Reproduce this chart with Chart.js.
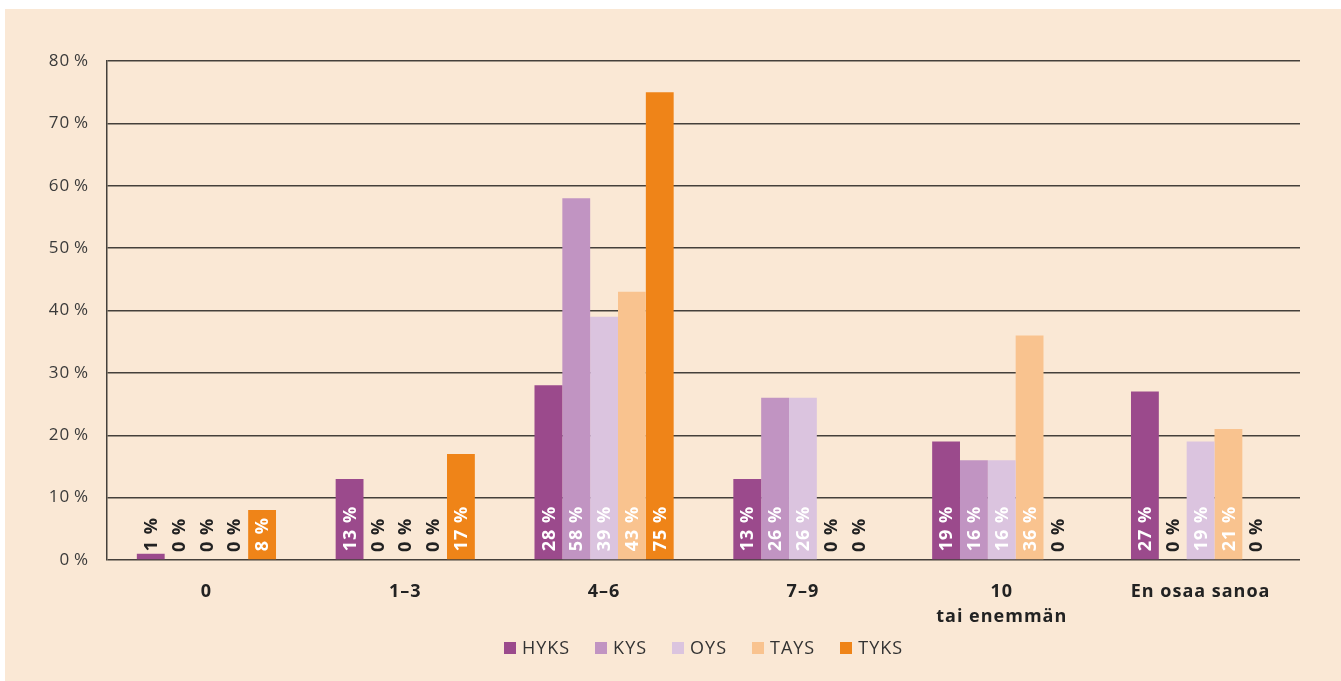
<!DOCTYPE html>
<html>
<head>
<meta charset="utf-8">
<script src="https://cdn.jsdelivr.net/npm/chart.js@4.4.1/dist/chart.umd.min.js"></script>
<style>
  html, body { margin: 0; padding: 0; background: #ffffff; }
  #wrap { position: absolute; left: 5px; top: 9px; width: 1336px; height: 672px; background: #FAE8D5; }
  canvas { display: block; }
</style>
</head>
<body>
<div id="wrap"><canvas id="c" width="1336" height="672"></canvas></div>
<script>
const categories = ["0", "1–3", "4–6", "7–9", ["10", "tai enemmän"], "En osaa sanoa"];
const seriesNames = ["HYKS", "KYS", "OYS", "TAYS", "TYKS"];
const HYKS = [1, 13, 28, 13, 19, 27];
const KYS  = [0, 0, 58, 26, 16, 0];
const OYS  = [0, 0, 39, 26, 16, 19];
const TAYS = [0, 0, 43, 0, 36, 21];
const TYKS = [8, 17, 75, 0, 0, 0];
const seriesColors = ["#9B4A8C", "#C194C2", "#DBC4DF", "#F9C38F", "#EF8418"];
const yTicks = [0, 10, 20, 30, 40, 50, 60, 70, 80];

const FONT = "'Open Sans', 'DejaVu Sans', sans-serif";
const seriesValues = [HYKS, KYS, OYS, TAYS, TYKS];

const spacing = {
  id: 'spacing',
  beforeLayout(chart) { chart.ctx.letterSpacing = '1px'; },
  beforeDraw(chart) { chart.ctx.letterSpacing = '1px'; }
};

const valueLabels = {
  id: 'valueLabels',
  afterDraw(chart) {
    const ctx = chart.ctx;
    ctx.save();
    ctx.letterSpacing = '1px';
    ctx.font = "bold 18px " + FONT;
    ctx.textAlign = 'left';
    ctx.textBaseline = 'middle';
    chart.data.datasets.forEach((ds, i) => {
      const meta = chart.getDatasetMeta(i);
      meta.data.forEach((el, j) => {
        const v = ds.data[j];
        ctx.save();
        ctx.translate(el.x, el.base - 8);
        ctx.rotate(-Math.PI / 2);
        ctx.fillStyle = v >= 5 ? '#ffffff' : '#222222';
        ctx.fillText(v + ' %', 0, 1);
        ctx.restore();
      });
    });
    ctx.restore();
  }
};

const bottomLegend = {
  id: 'bottomLegend',
  afterDraw(chart) {
    const ctx = chart.ctx;
    const area = chart.chartArea;
    ctx.save();
    ctx.letterSpacing = '1px';
    ctx.font = "18px " + FONT;
    ctx.textBaseline = 'middle';
    ctx.textAlign = 'left';
    const box = 12, gap = 6, pad = 25;
    const items = chart.data.datasets.map(d => ({ label: d.label, color: d.backgroundColor, w: ctx.measureText(d.label).width }));
    const total = items.reduce((s, it) => s + box + gap + it.w, 0) + pad * (items.length - 1);
    let x = (area.left + area.right) / 2 - total / 2;
    const y = 639;
    items.forEach(it => {
      ctx.fillStyle = it.color;
      ctx.fillRect(Math.round(x), y - box / 2, box, box);
      ctx.fillStyle = '#333333';
      ctx.fillText(it.label, x + box + gap, y + 1);
      x += box + gap + it.w + pad;
    });
    ctx.restore();
  }
};

new Chart(document.getElementById('c'), {
  type: 'bar',
  data: {
    labels: categories,
    datasets: seriesNames.map((n, i) => ({
      label: n,
      data: seriesValues[i],
      backgroundColor: seriesColors[i],
      borderWidth: 0,
      categoryPercentage: 0.7,
      barPercentage: 1.0
    }))
  },
  options: {
    responsive: false,
    animation: false,
    devicePixelRatio: 1,
    layout: { padding: { left: 0, right: 41, top: 52, bottom: 46 } },
    plugins: {
      tooltip: { enabled: false },
      legend: { display: false }
    },
    scales: {
      x: {
        grid: { display: false, drawTicks: false },
        border: { display: false },
        ticks: {
          color: '#222222',
          padding: 19,
          maxRotation: 0,
          font: { family: FONT, size: 18, weight: 'bold', lineHeight: 1.4 }
        },
        afterFit(scale) { scale.height = 75; }
      },
      y: {
        min: 0, max: 80,
        z: 1,
        afterBuildTicks(scale) { scale.ticks = yTicks.map(v => ({ value: v })); },
        grid: { color: '#45403b', lineWidth: 1.5, drawTicks: false },
        border: { display: true, color: '#45403b', width: 1.5 },
        ticks: {
          color: '#3a3a3a',
          padding: 18,
          font: { family: FONT, size: 17 },
          callback: v => v + '\u2009%'
        },
        afterFit(scale) { scale.width = 102; }
      }
    }
  },
  plugins: [spacing, valueLabels, bottomLegend]
});
</script>
</body>
</html>
